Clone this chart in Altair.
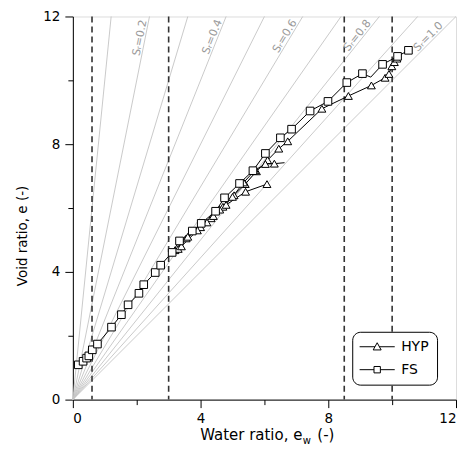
import math
import altair as alt
import pandas as pd

# ---------------- data ----------------
fs_x = [0.17, 0.32, 0.43, 0.50, 0.61, 0.77, 1.21, 1.52, 1.73, 2.07, 2.22, 2.58, 2.75, 3.11,
        3.34, 3.74, 4.02, 4.47, 4.75, 5.22, 5.64, 6.03, 6.50, 6.85, 7.43, 7.99, 8.58, 9.07,
        9.33, 9.70, 10.17, 10.51]
fs_y = [1.09, 1.20, 1.30, 1.37, 1.56, 1.74, 2.27, 2.66, 2.97, 3.33, 3.60, 3.98, 4.21, 4.61,
        4.97, 5.28, 5.52, 5.90, 6.32, 6.77, 7.17, 7.71, 8.20, 8.47, 9.04, 9.34, 9.93, 10.21,
        10.10, 10.50, 10.75, 10.94]
fs_mark = [1] * 28 + [0] + [1] * 3

hyp1_x = [3.20, 3.55, 4.00, 4.33, 4.70, 5.05, 5.40, 5.75, 6.10, 6.45, 6.73, 7.80, 8.63,
          9.35, 9.78, 9.90, 9.99, 10.07, 10.15]
hyp1_y = [4.68, 5.05, 5.40, 5.68, 6.04, 6.40, 6.75, 7.15, 7.50, 7.86, 8.09, 9.11, 9.51,
          9.84, 10.08, 10.20, 10.44, 10.57, 10.68]
hyp1_mark = [1] * 19

hyp2_x = [3.30, 3.60, 4.20, 4.60, 5.00, 5.35, 5.70, 6.03, 6.31, 6.63]
hyp2_y = [4.72, 5.10, 5.55, 5.95, 6.35, 6.80, 7.18, 7.38, 7.39, 7.42]
hyp2_mark = [1] * 9 + [0]

hyp3_x = [3.40, 3.90, 4.40, 4.80, 5.41, 6.08]
hyp3_y = [4.80, 5.30, 5.75, 6.10, 6.51, 6.75]
hyp3_mark = [1] * 6

sr_values = [0.1, 0.2, 0.3, 0.4, 0.5, 0.6, 0.7, 0.8, 0.9, 1.0]
sr_label_text = ["S\u1d63=0.2", "S\u1d63=0.4", "S\u1d63=0.6", "S\u1d63=0.8", "S\u1d63=1.0"]
sr_label_sr = [0.2, 0.4, 0.6, 0.8, 1.0]
sr_label_x = [2.26, 4.52, 6.78, 9.04, 11.25]
sr_label_y = [11.30, 11.30, 11.30, 11.30, 11.25]

dashed_x = [0.6, 3.0, 8.5, 10.0]

legend_names = ["HYP", "FS"]

# ---------------- tables ----------------
rows = []
for sid, grp, xs_, ys_, ms in [
    ("FS", "FS", fs_x, fs_y, fs_mark),
    ("HYP1", "HYP", hyp1_x, hyp1_y, hyp1_mark),
    ("HYP2", "HYP", hyp2_x, hyp2_y, hyp2_mark),
    ("HYP3", "HYP", hyp3_x, hyp3_y, hyp3_mark),
]:
    for i, (a, b, m) in enumerate(zip(xs_, ys_, ms)):
        rows.append({"series": sid, "group": grp, "x": a, "y": b, "mark": m, "idx": i})
df = pd.DataFrame(rows)

sr_rows = []
for s in sr_values:
    sr_rows.append({"sr": s, "x": 0.0, "y": 0.0, "o": 0})
    sr_rows.append({"sr": s, "x": 12 * s, "y": 12.0, "o": 1})
sr_df = pd.DataFrame(sr_rows)

lab_df = pd.DataFrame({
    "text": sr_label_text, "x": sr_label_x, "y": sr_label_y,
    "angle": [360 - math.degrees(math.atan(1 / s)) for s in sr_label_sr],
})
dash_df = pd.DataFrame({"x": dashed_x})

FONT = "DejaVu Sans"
W = H = 384

xs = alt.Scale(domain=[0, 12], nice=False, zero=False)
ys = alt.Scale(domain=[0, 12], nice=False, zero=False)

tick_cond = {"condition": {"test": "datum.value % 4 === 0", "value": 8}, "value": 5}
x_axis = alt.Axis(values=list(range(0, 13, 2)), labelExpr="datum.value % 4 === 0 ? datum.label : ''",
                  grid=False, title=None, tickSize=tick_cond, domainColor="black", tickColor="black",
                  labelFont=FONT, labelFontSize=13.5, labelColor="black", labelPadding=4)
y_axis = alt.Axis(values=list(range(0, 13, 2)), labelExpr="datum.value % 4 === 0 ? datum.label : ''",
                  grid=False, title=None, tickSize=tick_cond, domainColor="black",
                  tickColor="black", labelFont=FONT, labelFontSize=13.5, labelColor="black",
                  labelPadding=5)

sr_lines = alt.Chart(sr_df).mark_line(color="#c4c4c4", strokeWidth=0.9).encode(
    x=alt.X("x:Q", scale=xs, axis=x_axis), y=alt.Y("y:Q", scale=ys, axis=y_axis),
    detail="sr:N", order="o:Q")

dashes = alt.Chart(dash_df).mark_rule(color="#333333", strokeWidth=1.6, strokeDash=[6, 4]).encode(
    x=alt.X("x:Q", scale=xs))

sr_labels = alt.Chart(lab_df).mark_text(font=FONT, fontSize=11, color="#9a9a9a", align="center",
                                        baseline="alphabetic", dy=-2).encode(
    x=alt.X("x:Q", scale=xs), y=alt.Y("y:Q", scale=ys), text="text:N",
    angle=alt.Angle("angle:Q", scale=None))

lines = alt.Chart(df).mark_line(color="black", strokeWidth=1).encode(
    x=alt.X("x:Q", scale=xs), y=alt.Y("y:Q", scale=ys), detail="series:N", order="idx:Q")

tri = alt.Chart(df).transform_filter("datum.mark == 1 && datum.group == 'HYP'").mark_point(
    shape="triangle-up", filled=True, fill="white", stroke="black", strokeWidth=1, size=62,
    opacity=1).encode(x=alt.X("x:Q", scale=xs), y=alt.Y("y:Q", scale=ys))

sq = alt.Chart(df).transform_filter("datum.mark == 1 && datum.group == 'FS'").mark_point(
    shape="square", filled=True, fill="white", stroke="black", strokeWidth=1, size=58,
    opacity=1).encode(x=alt.X("x:Q", scale=xs), y=alt.Y("y:Q", scale=ys))

tri_path = "M-4.4,0H-0.55M0.55,0H4.4M0,-1L1,0.8L-1,0.8Z"
sq_path = "M-4.4,0H-0.8M0.8,0H4.4M-0.8,-0.8H0.8V0.8H-0.8Z"

legend_layer = alt.Chart(df).transform_filter("false").mark_point(
    filled=False, color="black", strokeWidth=1, opacity=1).encode(
    x=alt.X("x:Q", scale=xs), y=alt.Y("y:Q", scale=ys),
    shape=alt.Shape("group:N", scale=alt.Scale(domain=legend_names, range=[tri_path, sq_path]),
                    legend=alt.Legend(title=None, orient="none", legendX=280, legendY=316,
                                      strokeColor="black", cornerRadius=8, padding=8,
                                      fillColor="white", symbolSize=64, symbolOpacity=1,
                                      symbolStrokeColor="black",
                                      symbolStrokeWidth=1, symbolOffset=10, labelOffset=17,
                                      rowPadding=9, labelFont=FONT, labelFontSize=14,
                                      labelColor="black")))

TF = 15
t1 = alt.Chart(pd.DataFrame({"t": ["Water ratio, e"]})).mark_text(
    font=FONT, fontSize=TF, align="right", baseline="alphabetic", color="black").encode(
    x=alt.value(230), y=alt.value(H + 40), text="t:N")
t2 = alt.Chart(pd.DataFrame({"t": ["w"]})).mark_text(
    font=FONT, fontSize=10, align="left", baseline="alphabetic", color="black").encode(
    x=alt.value(230.5), y=alt.value(H + 44), text="t:N")
t3 = alt.Chart(pd.DataFrame({"t": ["(-)"]})).mark_text(
    font=FONT, fontSize=TF, align="left", baseline="alphabetic", color="black").encode(
    x=alt.value(245), y=alt.value(H + 40), text="t:N")
ytitle = alt.Chart(pd.DataFrame({"t": ["Void ratio, e (-)"]})).mark_text(
    font=FONT, fontSize=13.5, align="center", baseline="middle", color="black", angle=270).encode(
    x=alt.value(-50), y=alt.value(220), text="t:N")

chart = alt.layer(sr_lines, dashes, sr_labels, lines, tri, sq, legend_layer,
                  t1, t2, t3, ytitle).properties(
    width=W, height=H,
    autosize=alt.AutoSizeParams(type="none"),
    padding={"left": 65, "top": 8, "right": 2, "bottom": 50},
).configure_view(stroke="black", strokeWidth=1).configure(font=FONT)

chart.save("out.html", embed_options={"renderer": "svg", "actions": False})
